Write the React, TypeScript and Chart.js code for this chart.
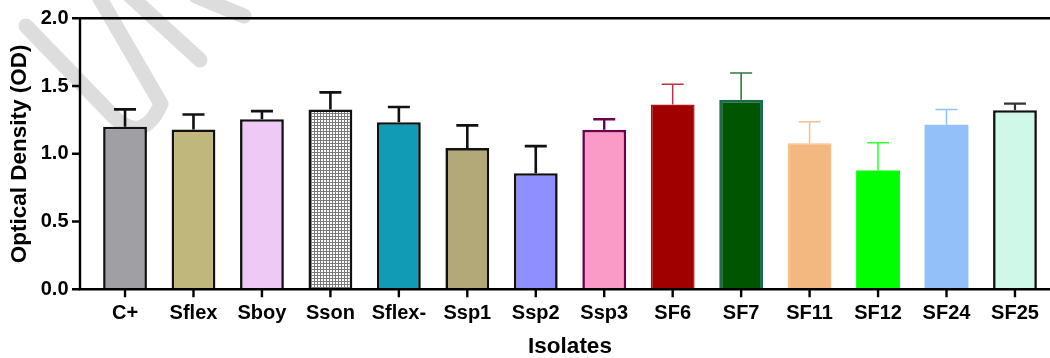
import { useEffect, useRef } from 'react';
import { Chart, registerables } from 'chart.js';

Chart.register(...registerables);

// ---- data ----
const isolates = ['C+', 'Sflex', 'Sboy', 'Sson', 'Sflex-', 'Ssp1', 'Ssp2', 'Ssp3', 'SF6', 'SF7', 'SF11', 'SF12', 'SF24', 'SF25'];
const meanOD = [1.2, 1.18, 1.255, 1.327, 1.233, 1.042, 0.857, 1.177, 1.364, 1.398, 1.078, 0.876, 1.215, 1.322];
const sdOD = [0.128, 0.11, 0.06, 0.126, 0.112, 0.168, 0.2, 0.078, 0.15, 0.198, 0.158, 0.205, 0.112, 0.048];
const yTickValues = [0, 0.5, 1.0, 1.5, 2.0];

// ---- styles ----
const fillColors = ['#a09fa4', '#c0b77c', '#efc9f5', 'pattern', '#119bb4', '#b3a877', '#8f8fff', '#f99ac7', '#a00000', '#005500', '#f2b880', '#00ff00', '#93c0f8', '#d0f8e8'];
const borderColors = ['#111111', '#111111', '#111111', '#111111', '#111111', '#111111', '#111111', '#6a0050', '#b01018', '#1b6b4f', '#f5c08a', '#00ff00', '#93c0f8', '#111111'];
const borderWidths = [2.6, 2.6, 2.6, 2.6, 2.6, 2.6, 2.6, 2.6, 1.5, 3, 1.5, 0, 0, 2.6];
const errorColors = ['#111111', '#111111', '#111111', '#111111', '#111111', '#111111', '#111111', '#6a0050', '#c03040', '#2f7a3a', '#f5c08a', '#33ff33', '#93c0f8', '#333333'];
const errorWidths = [2.6, 2.6, 2.6, 2.6, 2.6, 2.6, 2.6, 2.4, 1.5, 1.6, 1.5, 1.5, 1.5, 2.2];

const FONT = "'Liberation Sans', Arial, Helvetica, sans-serif";

export default function App() {
  const ref = useRef<HTMLCanvasElement>(null);

  useEffect(() => {
    const canvas = ref.current;
    if (!canvas) return;

    const tile = document.createElement('canvas');
    tile.width = 3;
    tile.height = 3;
    const tctx = tile.getContext('2d')!;
    tctx.fillStyle = '#ffffff';
    tctx.fillRect(0, 0, 3, 3);
    tctx.fillStyle = '#7a7a7a';
    tctx.fillRect(2, 0, 1, 3);
    tctx.fillRect(0, 2, 3, 1);
    const pattern = canvas.getContext('2d')!.createPattern(tile, 'repeat');
    const fills = fillColors.map((c) => (c === 'pattern' ? pattern : c));

    const yAxisGap = 10.8;
    const tickLen = 8;

    const watermark = {
      id: 'watermark',
      beforeDatasetsDraw(chart: any) {
        const ctx = chart.ctx;
        ctx.save();
        ctx.strokeStyle = 'rgba(212,212,212,0.8)';
        ctx.lineWidth = 15;
        ctx.lineCap = 'round';
        ctx.lineJoin = 'round';
        ctx.beginPath();
        ctx.moveTo(26, 26);
        ctx.lineTo(112, 115);
        ctx.quadraticCurveTo(142, 146, 161, 104);
        ctx.lineTo(95, -10);
        ctx.stroke();
        ctx.beginPath();
        ctx.moveTo(128, -6);
        ctx.lineTo(200, 60);
        ctx.stroke();
        ctx.beginPath();
        ctx.moveTo(196, -4);
        ctx.lineTo(244, 16);
        ctx.stroke();
        ctx.restore();
      },
    };

    const axesAndErrors = {
      id: 'axesAndErrors',
      afterDatasetsDraw(chart: any) {
        const ctx = chart.ctx;
        const yScale = chart.scales.y;
        const meta = chart.getDatasetMeta(0);
        const area = chart.chartArea;
        ctx.save();
        // error bars
        meta.data.forEach((bar: any, i: number) => {
          const x = bar.x;
          const yTop = yScale.getPixelForValue(meanOD[i]);
          const yErr = yScale.getPixelForValue(meanOD[i] + sdOD[i]);
          ctx.strokeStyle = errorColors[i];
          ctx.lineWidth = errorWidths[i];
          ctx.lineCap = 'butt';
          ctx.beginPath();
          ctx.moveTo(x, yTop);
          ctx.lineTo(x, yErr);
          ctx.moveTo(x - 11, yErr);
          ctx.lineTo(x + 11, yErr);
          ctx.stroke();
        });
        // axes
        const axisX = area.left - yAxisGap;
        const y0 = yScale.getPixelForValue(0);
        const yMax = yScale.getPixelForValue(2);
        ctx.strokeStyle = '#000';
        ctx.lineWidth = 2.4;
        ctx.lineCap = 'square';
        ctx.beginPath();
        ctx.moveTo(axisX, yMax);
        ctx.lineTo(axisX, y0);
        ctx.lineTo(chart.width, y0);
        ctx.moveTo(axisX, yMax);
        ctx.lineTo(chart.width, yMax);
        ctx.stroke();
        ctx.lineCap = 'butt';
        ctx.beginPath();
        yTickValues.forEach((v) => {
          const py = yScale.getPixelForValue(v);
          ctx.moveTo(axisX - tickLen, py);
          ctx.lineTo(axisX, py);
        });
        meta.data.forEach((bar: any) => {
          ctx.moveTo(bar.x, y0);
          ctx.lineTo(bar.x, y0 + tickLen);
        });
        ctx.stroke();
        ctx.restore();
      },
    };

    const chart = new Chart(canvas, {
      type: 'bar',
      data: {
        labels: isolates,
        datasets: [
          {
            data: meanOD,
            backgroundColor: fills as any,
            borderColor: borderColors,
            borderWidth: borderWidths,
            barPercentage: 0.64,
            categoryPercentage: 1,
          },
        ],
      },
      options: {
        responsive: false,
        animation: false,
        devicePixelRatio: 1,
        layout: { padding: { top: 18.3, right: 0.8, left: 0, bottom: 0 } },
        plugins: { legend: { display: false }, tooltip: { enabled: false } },
        scales: {
          x: {
            offset: true,
            grid: { display: false, drawTicks: true, tickLength: 12.3 },
            border: { display: false },
            ticks: {
              padding: 0,
              color: '#000',
              maxRotation: 0,
              autoSkip: false,
              font: { family: FONT, size: 20, weight: 'bold' },
            },
            title: {
              display: true,
              text: 'Isolates',
              color: '#000',
              padding: { top: 0, bottom: 0 },
              font: { family: FONT, size: 22.5, weight: 'bold', lineHeight: 1 },
            },
            afterFit: (s: any) => {
              s.height = 358 - 289.3;
            },
          },
          y: {
            min: 0,
            max: 2,
            grid: { display: false, drawTicks: true, tickLength: 22.3 },
            border: { display: false },
            afterBuildTicks: (s: any) => {
              s.ticks = yTickValues.map((v) => ({ value: v }));
            },
            ticks: {
              padding: 0,
              color: '#000',
              font: { family: FONT, size: 20, weight: 'bold' },
              callback: (v: any) => Number(v).toFixed(1),
            },
            title: {
              display: true,
              text: 'Optical Density (OD)',
              color: '#000',
              padding: { top: 9, bottom: 0 },
              font: { family: FONT, size: 22.5, weight: 'bold', lineHeight: 1 },
            },
            afterFit: (s: any) => {
              s.width = 90.8;
            },
          },
        },
      },
      plugins: [watermark, axesAndErrors],
    } as any);

    return () => chart.destroy();
  }, []);

  return (
    <div style={{ position: 'fixed', left: 0, top: 0, width: 1050, height: 358, background: '#fff' }}>
      <canvas ref={ref} width={1050} height={358} style={{ display: 'block' }} />
    </div>
  );
}
